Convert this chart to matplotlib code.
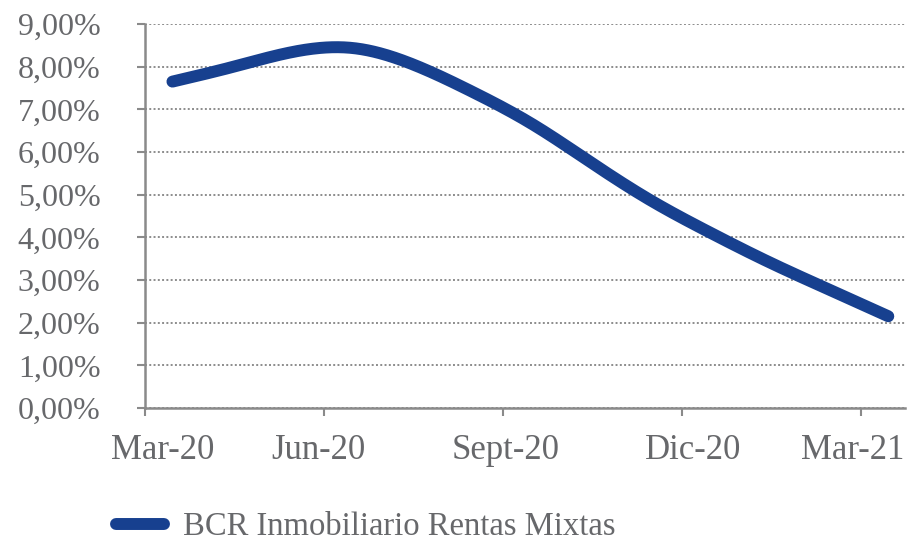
import numpy as np
import matplotlib
matplotlib.use("Agg")
import matplotlib.pyplot as plt
from matplotlib.ticker import FixedLocator, FuncFormatter

# ---- data ----
months = ["Mar-20", "Abr-20", "May-20", "Jun-20", "Jul-20", "Ago-20", "Sept-20",
          "Oct-20", "Nov-20", "Dic-20", "Ene-21", "Feb-21", "Mar-21"]
values = [7.65, 7.99, 8.34, 8.44, 8.07, 7.43, 6.68, 5.77, 4.88, 4.12, 3.42, 2.78, 2.15]
tick_labels = ["Mar-20", "Jun-20", "Sept-20", "Dic-20", "Mar-21"]
y_ticks = [0, 1, 2, 3, 4, 5, 6, 7, 8, 9]
series_name = "BCR Inmobiliario Rentas Mixtas"

GRAY = "#67686b"
AXC = "#8a8a8a"
BLUE = "#17408f"

plt.rcParams['font.family'] = ['Liberation Serif', 'DejaVu Serif']


def natural_spline(x, y, n=40):
    """Natural cubic spline through (x, y) for a smooth drawn line."""
    x = np.asarray(x, float)
    y = np.asarray(y, float)
    m = len(x)
    h = np.diff(x)
    A = np.zeros((m, m))
    b = np.zeros(m)
    A[0, 0] = A[-1, -1] = 1
    for i in range(1, m - 1):
        A[i, i - 1] = h[i - 1]
        A[i, i] = 2 * (h[i - 1] + h[i])
        A[i, i + 1] = h[i]
        b[i] = 3 * ((y[i + 1] - y[i]) / h[i] - (y[i] - y[i - 1]) / h[i - 1])
    c = np.linalg.solve(A, b)
    xs, ys = [], []
    for i in range(m - 1):
        bb = (y[i + 1] - y[i]) / h[i] - h[i] * (2 * c[i] + c[i + 1]) / 3
        d = (c[i + 1] - c[i]) / (3 * h[i])
        t = np.linspace(0, h[i], n, endpoint=False)
        xs.append(x[i] + t)
        ys.append(y[i] + bb * t + c[i] * t ** 2 + d * t ** 3)
    xs.append([x[-1]])
    ys.append([y[-1]])
    return np.concatenate(xs), np.concatenate(ys)


fig = plt.figure(figsize=(9.07, 5.41), dpi=100)
ax = fig.add_axes([145 / 907, 1 - 408 / 541, (905 - 145) / 907, (408 - 24) / 541])

xi = np.arange(len(values))
sx, sy = natural_spline(xi, values)
line, = ax.plot(sx, sy, color=BLUE, lw=8.6, solid_capstyle='round', zorder=3)

ax.set_xlim(-0.46, 12.28)
ax.set_ylim(0, 9)

# y axis
ax.set_yticks(y_ticks)
ax.yaxis.set_major_formatter(FuncFormatter(lambda v, p: f"{v:.2f}%".replace(".", ",")))
ax.tick_params(axis='y', direction='out', length=6, width=1.5, color=AXC,
               labelsize=23, labelcolor=GRAY, pad=26)
ax.grid(axis='y', color='#8c8c8c', linestyle=(0, (1, 1.2)), linewidth=1.4)
ax.set_axisbelow(True)

# x axis: tick marks between, labels at own positions
ax.xaxis.set_minor_locator(FixedLocator([3 * i - 0.46 for i in range(5)]))
ax.set_xticks([-0.17, 2.45, 5.58, 8.73, 11.40])
ax.set_xticklabels(tick_labels)
ax.tick_params(axis='x', which='major', length=0, labelsize=25, labelcolor=GRAY, pad=19)
ax.tick_params(axis='x', which='minor', direction='out', length=5.5, width=1.5, color=AXC)

for s in ['top', 'right']:
    ax.spines[s].set_visible(False)
for s in ['left', 'bottom']:
    ax.spines[s].set_color(AXC)
    ax.spines[s].set_linewidth(1.8)

leg = fig.legend([line], [series_name], loc='center left',
                 bbox_to_anchor=(103 / 907, 1 - 527 / 541), frameon=False,
                 fontsize=23.5, handlelength=1.47, handletextpad=0.58, borderaxespad=0)
for t in leg.get_texts():
    t.set_color(GRAY)

fig.savefig("out.png", dpi=100)
